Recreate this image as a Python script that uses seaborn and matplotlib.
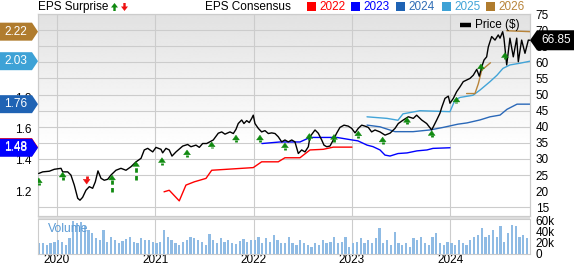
import numpy as np
import matplotlib
matplotlib.use("Agg")
import matplotlib.pyplot as plt
from matplotlib.patches import Polygon, Rectangle
from matplotlib.lines import Line2D
import seaborn as sns

# ---------------- data ----------------
price_year = [2019.814, 2019.855, 2019.922, 2019.973, 2020.041, 2020.058, 2020.109, 2020.142,
              2020.176, 2020.211, 2020.234, 2020.261, 2020.295, 2020.329, 2020.363, 2020.390,
              2020.417, 2020.448, 2020.481, 2020.516, 2020.549, 2020.600, 2020.651, 2020.702,
              2020.753, 2020.804, 2020.855, 2020.888, 2020.923, 2020.974, 2021.007, 2021.058,
              2021.075, 2021.109, 2021.142, 2021.170, 2021.211, 2021.279, 2021.330, 2021.363,
              2021.414, 2021.448, 2021.482, 2021.523, 2021.590, 2021.641, 2021.676, 2021.709,
              2021.760, 2021.794, 2021.821, 2021.844, 2021.879, 2021.902, 2021.930, 2021.956,
              2021.981, 2021.997, 2022.014, 2022.048, 2022.082, 2022.116, 2022.150, 2022.184,
              2022.218, 2022.251, 2022.286, 2022.319, 2022.353, 2022.388, 2022.421, 2022.455,
              2022.489, 2022.523, 2022.557, 2022.574, 2022.625, 2022.658, 2022.693, 2022.716,
              2022.744, 2022.777, 2022.811, 2022.845, 2022.879, 2022.920, 2022.963, 2022.998,
              2023.032, 2023.065, 2023.100, 2023.133, 2023.167, 2023.201, 2023.235, 2023.286,
              2023.337, 2023.388, 2023.439, 2023.472, 2023.523, 2023.574, 2023.625, 2023.659,
              2023.710, 2023.761, 2023.812, 2023.863, 2023.896, 2023.914, 2023.947, 2023.981,
              2023.998, 2024.032, 2024.066, 2024.100, 2024.133, 2024.168, 2024.201, 2024.235,
              2024.270, 2024.296, 2024.321, 2024.344, 2024.371, 2024.388, 2024.422, 2024.456,
              2024.489, 2024.507, 2024.534, 2024.547, 2024.575, 2024.608, 2024.642, 2024.677,
              2024.693, 2024.727, 2024.761, 2024.795, 2024.812]
price_usd = [25.5, 26.0, 26.2, 26.8, 27.1, 26.0, 26.0, 25.0,
             21.9, 17.8, 17.2, 18.1, 20.3, 21.4, 20.9, 22.9,
             26.3, 24.0, 23.4, 23.7, 25.0, 26.5, 27.1, 26.5,
             27.6, 29.1, 30.2, 32.8, 33.3, 32.2, 33.6, 33.0,
             31.9, 33.3, 32.8, 30.9, 32.2, 34.0, 34.5, 33.8,
             34.3, 33.6, 34.8, 34.8, 35.9, 38.0, 38.4, 37.7,
             38.4, 37.9, 39.2, 41.0, 42.1, 41.0, 41.9, 41.3,
             42.6, 43.6, 41.0, 39.5, 38.4, 38.8, 37.9, 38.1,
             37.9, 36.9, 35.3, 35.9, 35.3, 35.9, 35.3, 31.7,
             32.8, 32.2, 33.8, 36.9, 39.0, 38.0, 35.9, 34.3,
             33.8, 34.0, 35.9, 38.0, 39.8, 40.5, 40.2, 39.5,
             38.1, 39.5, 40.5, 40.2, 39.8, 38.4, 39.0, 38.4,
             37.4, 38.0, 39.5, 41.0, 42.1, 43.1, 42.6, 43.6,
             42.1, 41.0, 39.0, 42.1, 44.2, 46.0, 48.8, 49.5,
             47.3, 48.8, 50.9, 52.4, 54.0, 54.5, 55.0, 56.0,
             57.8, 55.7, 58.6, 60.7, 61.7, 64.8, 68.0, 66.9,
             68.5, 67.5, 69.5, 67.5, 59.2, 67.5, 61.7, 67.5,
             60.2, 66.9, 62.8, 66.9, 66.85]

eps22_year = [2021.089, 2021.142, 2021.244, 2021.312, 2021.397, 2021.516, 2021.574, 2021.997,
              2022.082, 2022.251, 2022.319, 2022.472, 2022.574, 2022.709, 2022.811, 2023.001]
eps22 = [1.196, 1.206, 1.138, 1.239, 1.260, 1.282, 1.334, 1.351,
         1.388, 1.388, 1.414, 1.414, 1.464, 1.468, 1.482, 1.482]

eps23_year = [2022.085, 2022.268, 2022.472, 2022.574, 2022.848, 2023.001, 2023.062, 2023.154,
              2023.215, 2023.286, 2023.337, 2023.388, 2023.469, 2023.561, 2023.662, 2023.764,
              2023.825, 2023.998]
eps23 = [1.505, 1.515, 1.515, 1.544, 1.544, 1.528, 1.522, 1.495,
         1.485, 1.464, 1.431, 1.425, 1.441, 1.445, 1.458, 1.464,
         1.474, 1.478]

eps24_year = [2023.154, 2023.286, 2023.439, 2023.622, 2023.795, 2023.927, 2024.079, 2024.171,
              2024.303, 2024.405, 2024.507, 2024.578, 2024.680, 2024.812]
eps24 = [1.623, 1.612, 1.581, 1.581, 1.592, 1.608, 1.629, 1.637,
         1.656, 1.676, 1.687, 1.724, 1.757, 1.757]

eps25_year = [2023.154, 2023.357, 2023.469, 2023.520, 2023.693, 2023.998, 2024.049, 2024.100,
              2024.232, 2024.303, 2024.405, 2024.476, 2024.537, 2024.608, 2024.710, 2024.812]
eps25 = [1.676, 1.666, 1.654, 1.695, 1.715, 1.709, 1.784, 1.800,
         1.814, 1.847, 1.901, 1.942, 1.986, 2.008, 2.019, 2.032]

eps26a_year = [2024.167, 2024.252, 2024.286, 2024.321, 2024.410]
eps26a = [1.825, 1.825, 1.887, 1.975, 2.022]
eps26b_year = [2024.575, 2024.812]
eps26b = [2.227, 2.221]

# EPS surprise arrows: tip / tail in price units (tip above tail = beat)
surprise_year = [2019.815, 2020.058, 2020.302, 2020.560, 2020.804, 2021.068, 2021.323,
                 2021.574, 2021.821, 2022.065, 2022.319, 2022.567, 2022.818, 2023.065,
                 2023.313, 2023.561, 2023.812, 2024.064, 2024.313, 2024.557]
surprise_tip = [24.1, 25.9, 22.2, 25.0, 29.2, 30.4, 32.8, 35.3, 37.4, 37.4,
                35.0, 37.9, 37.6, 38.7, 36.8, 42.9, 38.8, 49.2, 59.5, 63.0]
surprise_tail = [21.9, 23.4, 24.7, 19.7, 23.4, 28.1, 30.6, 33.3, 35.3, 35.3,
                 32.8, 35.9, 35.3, 36.5, 34.6, 40.8, 36.8, 47.3, 57.6, 61.0]
surprise_dashed = [False, False, False, True, True, False, False, False, False, False,
                   False, False, False, False, False, False, False, False, False, False]

volume_start = 2019.82
volume_step = 1 / 26
volume_k = [20, 19, 16, 19, 22,
            25, 22, 16, 28, 60, 56, 58, 50, 44, 38, 28, 25, 44, 22, 31, 25, 19, 24, 27, 30, 22, 19, 28, 25, 26, 22,
            19, 22, 44, 30, 25, 19, 16, 22, 25, 31, 28, 25, 22, 16, 36, 25, 19, 28, 22, 25, 20, 18, 24, 27, 22, 25,
            25, 31, 19, 28, 22, 34, 25, 19, 20, 31, 19, 16, 25, 19, 16, 13, 19, 16, 25, 19, 22, 31, 19, 22, 31, 13,
            19, 22, 28, 19, 25, 19, 28, 46, 19, 25, 16, 40, 19, 16, 19, 13, 28, 25, 31, 19, 16, 31, 37, 19, 16, 22,
            19, 16, 25, 19, 16, 25, 31, 34, 46, 31, 34, 43, 31, 50, 22, 37, 53, 50, 31, 34, 28, 44]

year_ticks = [2020, 2021, 2022, 2023, 2024]
price_ticks = [15, 20, 25, 30, 35, 40, 45, 50, 55, 60, 65, 70, 75]
eps_ticks = [1.2, 1.4, 1.6, 1.8]
vol_ticks = [0, 20, 40, 60]
vol_labels = ["0", "20k", "40k", "60k"]
legend_years = ["2022", "2023", "2024", "2025", "2026"]
last_price = 66.85

# ---------------- style ----------------
c22, c23, c24, c25, c26 = "#ff0000", "#0000ff", "#2a68b8", "#42a4d8", "#b8843a"
flag_cols = {"2022": "#ff0000", "2023": "#0000ff", "2024": "#1f63b4",
             "2025": "#3ea2d6", "2026": "#b07c2e"}
green, red = "#108a10", "#ee1111"
gridc = "#cccccc"
FS = 8.5

sns.set_theme(style="white")
plt.rcParams["font.family"] = ["Liberation Sans", "DejaVu Sans"]

W, H = 574, 265
fig = plt.figure(figsize=(W / 100, H / 100), dpi=100)
fig.patch.set_facecolor("white")


def fx(px):
    return px / W


def fy(py):
    return 1 - py / H


# EPS <-> price scale relation of the two y axes
P_LO, P_HI = 12.3, 75.0
EPS_AT_20, PRICE_PER_EPS = 1.2, 48.5


def p2e(p):
    return EPS_AT_20 + (np.asarray(p) - 20) / PRICE_PER_EPS


X0, X1 = 2019.807, 2024.812

ax_e = fig.add_axes([fx(38), fy(216), fx(530) - fx(38), fy(14) - fy(216)])
ax_p = ax_e.twinx()
ax_v = fig.add_axes([fx(38), fy(254), fx(530) - fx(38), fy(219) - fy(254)])

# gradient background
grad = np.clip(np.linspace(0.885, 1.06, 256), None, 1.0)
ax_e.imshow(grad[:, None], cmap="gray", vmin=0, vmax=1, extent=[0, 1, 0, 1],
            transform=ax_e.transAxes, aspect="auto", zorder=0, interpolation="bilinear")

# EPS consensus lines
sns.lineplot(x=eps22_year, y=eps22, ax=ax_e, color=c22, lw=1.0, estimator=None, zorder=3)
sns.lineplot(x=eps23_year, y=eps23, ax=ax_e, color=c23, lw=1.0, estimator=None, zorder=3)
sns.lineplot(x=eps24_year, y=eps24, ax=ax_e, color=c24, lw=1.0, estimator=None, zorder=3)
sns.lineplot(x=eps25_year, y=eps25, ax=ax_e, color=c25, lw=1.0, estimator=None, zorder=3)
sns.lineplot(x=eps26a_year, y=eps26a, ax=ax_e, color=c26, lw=1.0, estimator=None, zorder=3)
sns.lineplot(x=eps26b_year, y=eps26b, ax=ax_e, color=c26, lw=1.0, estimator=None, zorder=3)

ax_e.set_xlim(X0, X1)
ax_e.set_ylim(float(p2e(P_LO)), float(p2e(P_HI)))
ax_e.set_yticks(eps_ticks)
ax_e.set_yticklabels([f"{t:.1f}" for t in eps_ticks])
ax_e.set_yticks(p2e(price_ticks), minor=True)
ax_e.set_xticks(year_ticks)
ax_e.grid(False)
ax_e.grid(True, which="minor", axis="y", color=gridc, lw=0.8)
ax_e.grid(True, which="major", axis="x", color=gridc, lw=0.8)
ax_e.tick_params(axis="y", which="both", length=0, pad=5, labelsize=FS, labelcolor="black")
ax_e.tick_params(axis="x", length=0, labelbottom=False)
ax_e.set_xlabel("")
ax_e.set_ylabel("")

# price line
ax_p.set_zorder(ax_e.get_zorder() + 1)
ax_p.patch.set_visible(False)
sns.lineplot(x=price_year, y=price_usd, ax=ax_p, color="black", lw=1.0, estimator=None, zorder=4)
ax_p.set_xlim(X0, X1)
ax_p.set_ylim(P_LO, P_HI)
ax_p.set_yticks(price_ticks)
ax_p.set_yticklabels([str(t) for t in price_ticks])
ax_p.grid(False)
ax_p.tick_params(axis="y", length=0, pad=4, labelsize=FS, labelcolor="black")
ax_p.set_xlabel("")
ax_p.set_ylabel("")

# surprise arrows
HEAD_H, HEAD_W = 1.5, 0.035
for yr, tip, tail, dashed in zip(surprise_year, surprise_tip, surprise_tail, surprise_dashed):
    up = tip > tail
    col = green if up else red
    base = tip - HEAD_H if up else tip + HEAD_H
    ln, = ax_p.plot([yr, yr], [tail, base], color=col, lw=2.0, zorder=6,
                    solid_capstyle="butt")
    if dashed:
        ln.set_dashes((1.6, 1.2))
    ax_p.add_patch(Polygon([[yr - HEAD_W, base], [yr + HEAD_W, base], [yr, tip]],
                           closed=True, facecolor=col, edgecolor=col, lw=0.3, zorder=6))

for ax in (ax_e, ax_p):
    for s in ax.spines.values():
        s.set_color(gridc)
        s.set_linewidth(0.8)

# volume
vol_year = volume_start + volume_step * np.arange(len(volume_k))
ax_v.bar(vol_year, volume_k, width=volume_step * 0.6, color="#8fbbe4", linewidth=0, zorder=2)
ax_v.set_xlim(X0, X1)
ax_v.set_ylim(0, 63)
ax_v.set_facecolor("white")
ax_v.yaxis.tick_right()
ax_v.set_yticks(vol_ticks)
ax_v.set_yticklabels(vol_labels)
ax_v.set_xticks(year_ticks)
ax_v.set_xticklabels([str(y) for y in year_ticks])
ax_v.grid(False)
ax_v.grid(True, axis="x", color=gridc, lw=0.8, zorder=0)
ax_v.tick_params(axis="y", length=0, pad=4, labelsize=FS, labelcolor="black")
ax_v.tick_params(axis="x", length=0, pad=0.3, labelsize=FS, labelcolor="black")
for s in ax_v.spines.values():
    s.set_color(gridc)
    s.set_linewidth(0.8)
fig.text(fx(48), fy(229), "Volume", color="#5b9bd5", fontsize=8.7, va="center", ha="left")

# band between panels
fig.add_artist(Rectangle((fx(38), fy(219)), fx(530) - fx(38), fy(216) - fy(219),
                         transform=fig.transFigure, facecolor="#dddddd", edgecolor="none"))

# ---------------- flags ----------------
def disp_y(ax, v):
    return ax.transData.transform((0, v))[1]


Hpx = fig.dpi * fig.get_size_inches()[1]


def left_flag(val, color):
    yd = disp_y(ax_e, val)
    ypx = Hpx - yd
    pts = [(0, ypx - 9), (32, ypx - 9), (38, ypx), (32, ypx + 9), (0, ypx + 9)]
    fig.add_artist(Polygon([(fx(a), fy(b)) for a, b in pts], closed=True,
                           transform=fig.transFigure, facecolor=color, edgecolor="none", zorder=20))
    fig.text(fx(16), fy(ypx), f"{val:.2f}", color="white", fontsize=FS,
             ha="center", va="center", zorder=21)


left_flag(eps22[-1], flag_cols["2022"])
left_flag(eps23[-1], flag_cols["2023"])
left_flag(eps24[-1], flag_cols["2024"])
left_flag(eps25[-1], flag_cols["2025"])
left_flag(eps26b[-1], flag_cols["2026"])

ypx = Hpx - disp_y(ax_p, last_price)
pts = [(530, ypx), (537, ypx - 10), (574, ypx - 10), (574, ypx + 10), (537, ypx + 10)]
fig.add_artist(Polygon([(fx(a), fy(b)) for a, b in pts], closed=True,
                       transform=fig.transFigure, facecolor="black", edgecolor="none", zorder=20))
fig.text(fx(556), fy(ypx), f"{last_price:.2f}", color="white", fontsize=FS,
         ha="center", va="center", zorder=21)

# ---------------- header legend ----------------
fig.text(fx(38), fy(7), "EPS Surprise", fontsize=FS, ha="left", va="center", color="black")


def small_arrow(cx, up, color):
    top, bot = 3, 11
    if up:
        pts = [(cx, top), (cx + 3.5, top + 4.5), (cx + 1.2, top + 4.5), (cx + 1.2, bot),
               (cx - 1.2, bot), (cx - 1.2, top + 4.5), (cx - 3.5, top + 4.5)]
    else:
        pts = [(cx, bot), (cx + 3.5, bot - 4.5), (cx + 1.2, bot - 4.5), (cx + 1.2, top),
               (cx - 1.2, top), (cx - 1.2, bot - 4.5), (cx - 3.5, bot - 4.5)]
    fig.add_artist(Polygon([(fx(a), fy(b)) for a, b in pts], closed=True,
                           transform=fig.transFigure, facecolor=color, edgecolor="none"))


small_arrow(114.5, True, green)
small_arrow(124.5, False, red)

fig.text(fx(205), fy(7), "EPS Consensus", fontsize=FS, ha="left", va="center", color="black")
leg_text_cols = [c22, c23, "#2f6db5", "#42a4d8", "#b8843a"]
leg_sq_x = [307, 351, 396, 442, 486]
for lab, tcol, sx in zip(legend_years, leg_text_cols, leg_sq_x):
    fig.add_artist(Rectangle((fx(sx), fy(11)), fx(9), fy(2) - fy(11),
                             transform=fig.transFigure, facecolor=flag_cols[lab], edgecolor="none"))
    fig.text(fx(sx + 12), fy(7), lab, fontsize=FS, ha="left", va="center", color=tcol)

# price legend inside plot
fig.add_artist(Line2D([fx(460), fx(471)], [fy(25), fy(25)], lw=3.2, color="black",
                      transform=fig.transFigure, solid_capstyle="butt"))
fig.text(fx(475), fy(25), "Price ($)", fontsize=FS, ha="left", va="center", color="black")

fig.savefig("out.png", dpi=100, facecolor="white")
